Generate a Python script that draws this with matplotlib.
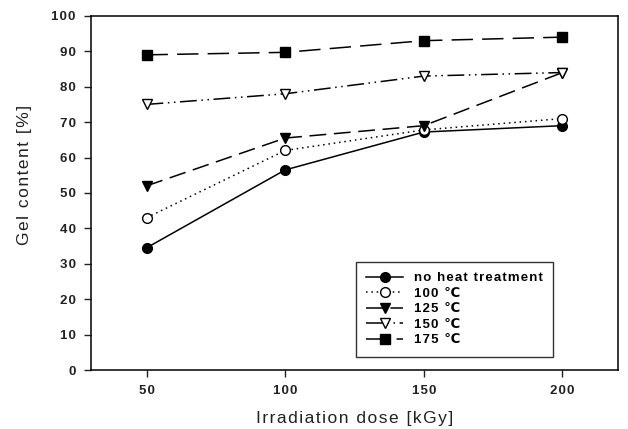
import matplotlib.pyplot as plt

plt.rcParams['font.family'] = ['Liberation Sans', 'DejaVu Sans']

dose = [50, 100, 150, 200]
no_heat = [34.5, 56.5, 67.2, 69.0]
t100 = [43.0, 62.0, 67.8, 71.0]
t125 = [52.0, 65.5, 69.0, 84.0]
t150 = [75.0, 78.0, 83.0, 84.0]
t175 = [89.0, 89.7, 93.0, 94.0]
labels = ["no heat treatment", "100 \u2103", "125 \u2103", "150 \u2103", "175 \u2103"]
gel_ticks = list(range(0, 101, 10))


def spaced(s, gap="\u200a"):
    # loose letter spacing, like the old plotting package
    return gap.join(s)


fig = plt.figure(figsize=(6.28, 4.29), dpi=100)
ax = fig.add_axes([0.145, 0.1375, 0.839, 0.8255])

ax.plot(dose, no_heat, color="black", lw=1.1, marker="o", ms=7, label=spaced(labels[0]))
ax.plot(dose, t100, color="black", lw=1.1, ls=(0, (1, 2.5)), marker="o", ms=7,
        mfc="white", mec="black", label=spaced(labels[1]))
ax.plot(dose, t125, color="black", lw=1.1, ls=(0, (11, 5)), marker="v", ms=7,
        label=spaced(labels[2]))
ax.plot(dose, t150, color="black", lw=1.1, ls=(0, (11, 3, 1, 3, 1, 3)), marker="v", ms=7,
        mfc="white", mec="black", label=spaced(labels[3]))
ax.plot(dose, t175, color="black", lw=1.1, ls=(0, (14, 6)), marker="s", ms=6.5,
        label=spaced(labels[4]))

ax.set_xlim(30, 220)
ax.set_ylim(0, 100)
ax.set_xticks(dose)
ax.set_xticklabels([spaced(str(d)) for d in dose], fontweight="bold")
ax.set_yticks(gel_ticks)
ax.set_yticklabels([spaced(str(g)) for g in gel_ticks], fontweight="bold")
ax.tick_params(direction="out", length=5, width=1, labelsize=9.5, pad=6, colors="#222222")
for s in ax.spines.values():
    s.set_linewidth(1.1)

ax.set_xlabel(spaced("Irradiation dose [kGy]"), fontsize=12.5, labelpad=10, color="#222222")
ax.set_ylabel(spaced("Gel content [%]"), fontsize=12.5, color="#222222")
ax.yaxis.set_label_coords(-0.112, 0.551)

leg = ax.legend(loc="lower right", bbox_to_anchor=(0.89, 0.018), frameon=True,
                fancybox=False, edgecolor="black", handlelength=2.8, labelspacing=0.25,
                borderpad=0.8, prop={"weight": "bold", "size": 9.5})
leg.get_frame().set_linewidth(1.0)

fig.savefig("out.png", dpi=100)
